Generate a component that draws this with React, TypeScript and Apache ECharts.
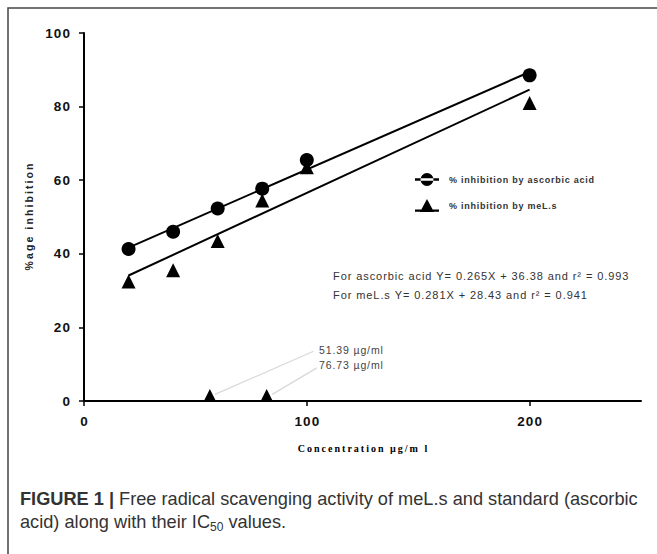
import React, { useEffect, useRef } from "react";
import * as echarts from "echarts";

const concentrations = [20, 40, 60, 80, 100, 200];
const ascorbicValues = [41.3, 46.0, 52.3, 57.7, 65.5, 88.5];
const melsValues = [32.5, 35.5, 43.5, 54.5, 63.5, 81.0];
const ascorbicFit = [[20, 41.7], [200, 89.4]];
const melsFit = [[20, 34.1], [200, 84.6]];
const ic50Points = [[56.5, 1.5], [82, 1.5]];
const ic50Leader1 = [[58.8, 1.8], [103, 13.5]];
const ic50Leader2 = [[84.5, 1.8], [104.5, 9]];
const ic50Labels = ["51.39 µg/ml", "76.73 µg/ml"];
const seriesNames = ["% inhibition by ascorbic acid", "% inhibition by meL.s"];
const equations = [
  "For ascorbic acid Y= 0.265X + 36.38 and r² = 0.993",
  "For meL.s Y= 0.281X + 28.43 and r² = 0.941",
];
const xTicks = { min: 0, max: 250, interval: 100 };
const yTicks = { min: 0, max: 100, interval: 20 };

const spaced = (s: string, sep = "\u2009") => s.split("").join(sep);

export default function App() {
  const ref = useRef<HTMLDivElement>(null);
  useEffect(() => {
    if (!ref.current) return;
    const chart = echarts.init(ref.current, null, { renderer: "svg" });
    const sans = "'Liberation Sans', Arial, sans-serif";
    const circleIcon =
      "path://M0,5.8h24v2.4h-24z M5.5,7a6.5,6.5 0 1,0 13,0a6.5,6.5 0 1,0 -13,0z";
    const triIcon = "path://M12,0L19,13H5Z M0,10.5h24v2.2h-24z";
    chart.setOption({
      animation: false,
      backgroundColor: "#fff",
      grid: { left: 84, right: 16, top: 33, bottom: 153, containLabel: false },
      xAxis: {
        type: "value",
        min: xTicks.min,
        max: xTicks.max,
        interval: xTicks.interval,
        name: spaced("Concentration µg/m l"),
        nameLocation: "middle",
        nameGap: 42,
        nameTextStyle: {
          fontFamily: "'Liberation Serif', 'Times New Roman', serif",
          fontWeight: "bold",
          fontSize: 10,
          color: "#000",
        },
        axisLine: { lineStyle: { color: "#000", width: 2 } },
        axisTick: { length: 5, lineStyle: { color: "#000", width: 1.5 } },
        axisLabel: {
          margin: 13,
          fontFamily: sans,
          fontWeight: "bold",
          fontSize: 13.5,
          color: "#111",
          showMaxLabel: false,
          formatter: (v: number) => (v % 100 === 0 ? spaced(String(v), "\u200a") : ""),
        },
        splitLine: { show: false },
      },
      yAxis: {
        type: "value",
        min: yTicks.min,
        max: yTicks.max,
        interval: yTicks.interval,
        name: spaced("%age inhibition"),
        nameLocation: "middle",
        nameGap: 50,
        nameTextStyle: {
          fontFamily: sans,
          fontWeight: "bold",
          fontSize: 10.5,
          color: "#222",
        },
        axisLine: { show: true, lineStyle: { color: "#000", width: 2 } },
        axisTick: { show: true, length: 5, lineStyle: { color: "#000", width: 1.5 } },
        axisLabel: {
          margin: 14,
          fontFamily: sans,
          fontWeight: "bold",
          fontSize: 13.5,
          color: "#111",
          formatter: (v: number) => spaced(String(v), "\u200a"),
        },
        splitLine: { show: false },
      },
      legend: {
        orient: "vertical",
        left: 410,
        top: 168,
        itemWidth: 24,
        itemHeight: 14,
        itemGap: 13,
        data: [
          { name: seriesNames[0], icon: circleIcon, itemStyle: { color: "#000", opacity: 1 } },
          { name: seriesNames[1], icon: triIcon, itemStyle: { color: "#000", opacity: 1 } },
        ],
        formatter: (n: string) => spaced(n, "\u200a"),
        textStyle: {
          fontFamily: sans,
          fontSize: 9,
          fontWeight: "bold",
          color: "#333",
          padding: [2, 0, 0, 5],
        },
      },
      series: [
        {
          type: "line",
          data: ascorbicFit,
          symbol: "none",
          lineStyle: { color: "#000", width: 2 },
          silent: true,
        },
        {
          type: "line",
          data: melsFit,
          symbol: "none",
          lineStyle: { color: "#000", width: 2 },
          silent: true,
        },
        {
          type: "line",
          data: ic50Leader1,
          symbol: "none",
          lineStyle: { color: "#d8d8d8", width: 1.2 },
          silent: true,
        },
        {
          type: "line",
          data: ic50Leader2,
          symbol: "none",
          lineStyle: { color: "#d8d8d8", width: 1.2 },
          silent: true,
        },
        {
          name: seriesNames[0],
          type: "scatter",
          symbol: "circle",
          symbolSize: 14,
          itemStyle: { color: "#000", opacity: 1 },
          data: concentrations.map((c, i) => [c, ascorbicValues[i]]),
        },
        {
          name: seriesNames[1],
          type: "scatter",
          symbol: "triangle",
          symbolSize: 14,
          itemStyle: { color: "#000", opacity: 1 },
          data: concentrations.map((c, i) => [c, melsValues[i]]),
        },
        {
          type: "scatter",
          symbol: "triangle",
          symbolSize: 13,
          itemStyle: { color: "#000", opacity: 1 },
          data: ic50Points,
        },
      ],
      graphic: [
        {
          type: "rect",
          shape: { x: 8, y: 8, width: 700, height: 600 },
          style: { fill: "none", stroke: "#444", lineWidth: 1.5 },
          silent: true,
        },
        {
          type: "text",
          x: 333,
          y: 276,
          style: {
            text: spaced(equations[0], "\u200a"),
            fontFamily: sans,
            fontSize: 11,
            fill: "#333",
            verticalAlign: "middle",
          },
        },
        {
          type: "text",
          x: 333,
          y: 295,
          style: {
            text: spaced(equations[1], "\u200a"),
            fontFamily: sans,
            fontSize: 11,
            fill: "#333",
            verticalAlign: "middle",
          },
        },
        {
          type: "text",
          x: 319,
          y: 350,
          style: {
            text: spaced(ic50Labels[0], "\u200a"),
            fontFamily: sans,
            fontSize: 10.5,
            fill: "#444",
            verticalAlign: "middle",
          },
        },
        {
          type: "text",
          x: 319,
          y: 365,
          style: {
            text: spaced(ic50Labels[1], "\u200a"),
            fontFamily: sans,
            fontSize: 10.5,
            fill: "#444",
            verticalAlign: "middle",
          },
        },
        {
          type: "text",
          x: 20,
          y: 499,
          style: {
            text: "{b|FIGURE 1 |} Free radical scavenging activity of meL.s and standard (ascorbic",
            fontFamily: sans,
            fontSize: 18.2,
            fill: "#333",
            verticalAlign: "middle",
            rich: {
              b: { fontFamily: sans, fontSize: 18.2, fontWeight: "bold", fill: "#333" },
            },
          },
        },
        {
          type: "text",
          x: 20,
          y: 522,
          style: {
            text: "{n|acid) along with their IC}{s|50}{n| values.}",
            fontFamily: sans,
            fontSize: 18.2,
            fill: "#333",
            verticalAlign: "middle",
            rich: {
              n: { fontFamily: sans, fontSize: 18.2, fill: "#333", lineHeight: 21, verticalAlign: "middle" },
              s: { fontFamily: sans, fontSize: 12, fill: "#333", lineHeight: 14, verticalAlign: "bottom" },
            },
          },
        },
      ],
    });
    return () => chart.dispose();
  }, []);
  return (
    <div
      ref={ref}
      style={{ position: "absolute", left: 0, top: 0, width: 657, height: 554 }}
    />
  );
}
